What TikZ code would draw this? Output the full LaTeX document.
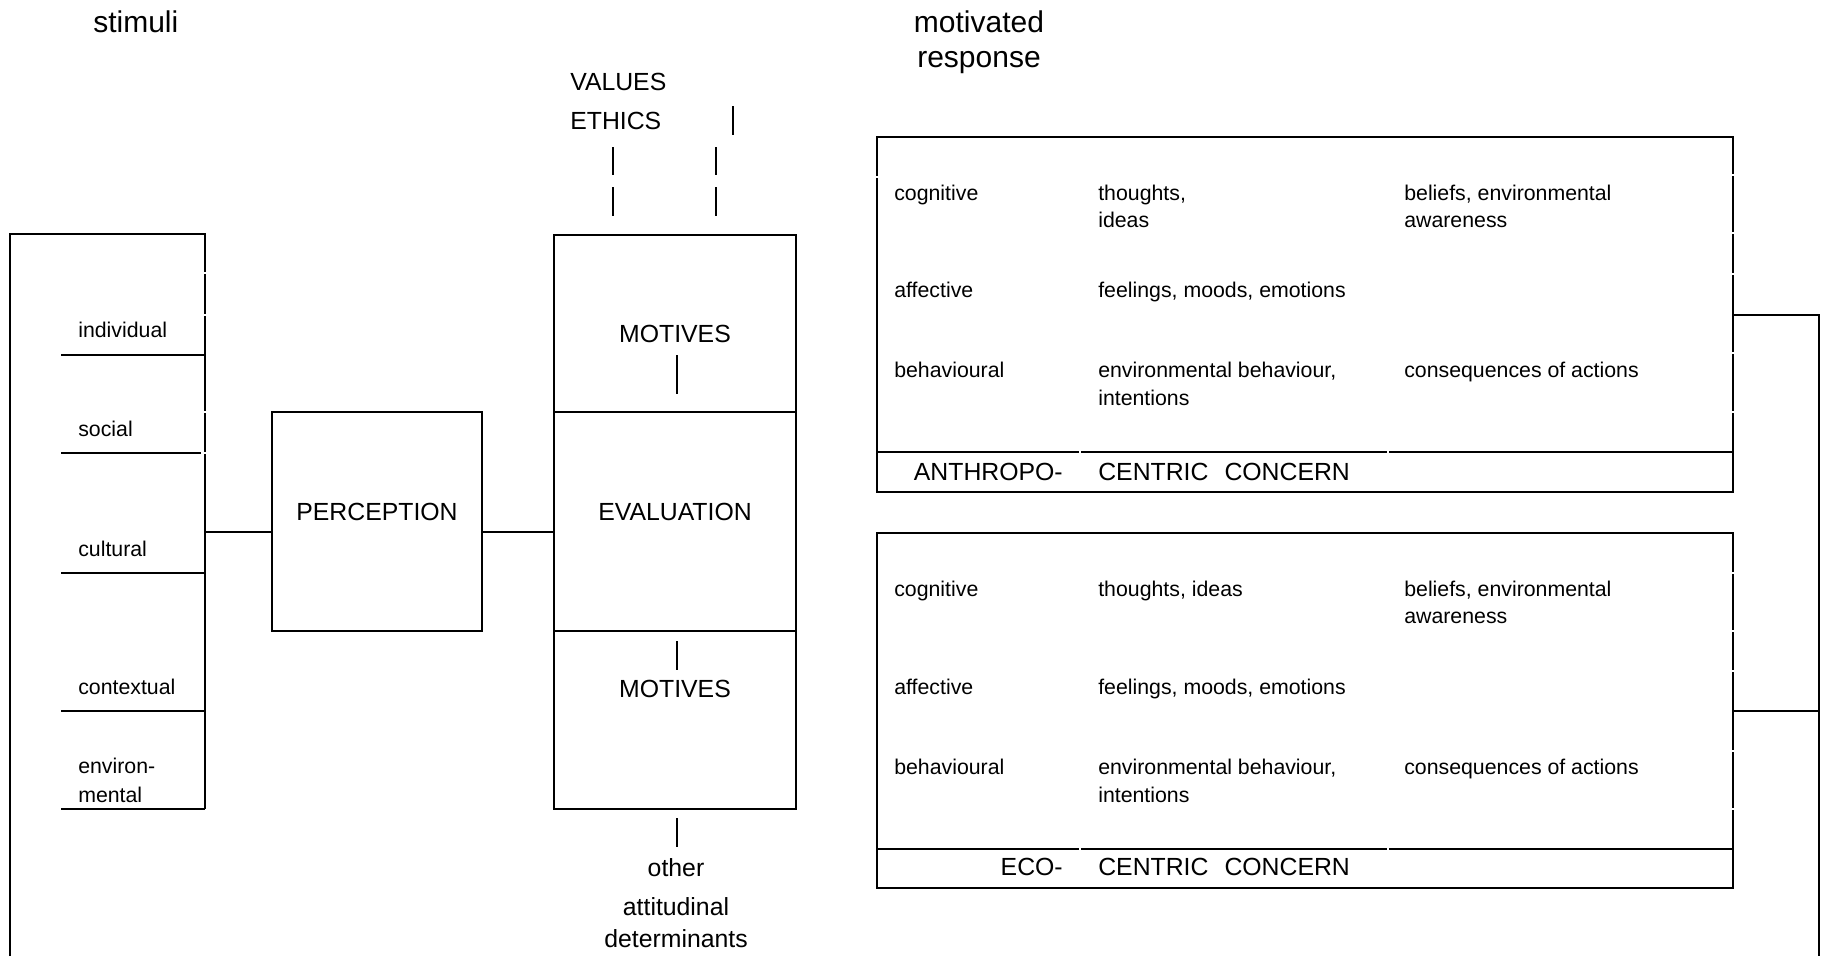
\documentclass[tikz,border=0pt]{standalone}
\usepackage{fontspec}
\setmainfont{Liberation Sans}
\begin{document}
\begin{tikzpicture}[x=1pt,y=-1pt,line width=2.6pt,
  box/.style={draw, rectangle, inner sep=0pt, outer sep=0pt, anchor=north west},
  small/.style={font=\fontsize{21.3}{25}\selectfont, inner sep=0pt, anchor=base west},
  big/.style={font=\fontsize{24.8}{30}\selectfont, inner sep=0pt, anchor=base},
  bigw/.style={big, anchor=base west},
  bige/.style={big, anchor=base east},
  head/.style={font=\fontsize{30}{36}\selectfont, inner sep=0pt, anchor=base},
  bar/.style={line width=2.4pt},
  gapv/.style={draw=white, line width=1.6pt},
]
\useasboundingbox (0,0) rectangle (1823,956);

% headings
\node[head, anchor=base west] (hstim) at (92,32) {stimuli};
\node[head] (hmot) at (979,32) {motivated};
\node[head] (hresp) at (979,67) {response};

% stimulus bracket
\coordinate (brTL) at (10,234);
\coordinate (brTR) at (205,234);
\coordinate (brBR) at (205,809);
\coordinate (brR) at (205,532);
\draw (10,956) -- (brTL) -- (brTR) -- (brBR);
\foreach \yy in {355,453,573,711,809} \draw (61,\yy) -- (205,\yy);
\foreach \yy in {273,315,412,453} \draw[gapv] (201,\yy) -- (209,\yy);
\node[small] (sInd) at (77,337) {individual};
\node[small] (sSoc) at (77,436) {social};
\node[small] (sCul) at (77,556) {cultural};
\node[small] (sCon) at (77,694) {contextual};
\node[small] (sEnv1) at (77,773) {environ-};
\node[small] (sEnv2) at (77,802) {mental};

% perception
\node[box, minimum width=210pt, minimum height=219pt] (perc) at (272,412) {};
\node[big] (percT) at (377,520) {PERCEPTION};
\draw (brR) -- (brR -| perc.west);

% motives / evaluation column
\node[box, minimum width=242pt, minimum height=177pt] (mot1) at (554,235) {};
\node[box, minimum width=242pt, minimum height=219pt] (eval) at (554,412) {};
\node[box, minimum width=242pt, minimum height=178pt] (mot2) at (554,631) {};
\draw (perc.east |- brR) -- (eval.west |- brR);
\node[big] (mot1T) at (675,342) {MOTIVES};
\node[big] (evalT) at (675,520) {EVALUATION};
\node[big] (mot2T) at (675,697) {MOTIVES};
\draw[bar] (677,355) -- (677,394);
\draw[bar] (677,641) -- (677,670);
\draw[bar] (677,818) -- (677,847);

% values and ethics
\node[big, anchor=base west] (val) at (569,90) {VALUES};
\node[big, anchor=base west] (eth) at (569,129) {ETHICS};
\draw[bar] (733,106) -- (733,135);
\draw[bar] (613,147) -- (613,175);
\draw[bar] (613,187) -- (613,216);
\draw[bar] (716,147) -- (716,175);
\draw[bar] (716,187) -- (716,216);

% other determinants
\node[big] (oth1) at (676,876) {other};
\node[big] (oth2) at (676,915) {attitudinal};
\node[big] (oth3) at (676,947) {determinants};

% anthropocentric concern
\node[box, minimum width=856pt, minimum height=355pt] (anthro) at (877,137) {};
\draw (anthro.west |- 0,452) -- (anthro.east |- 0,452);
\draw[gapv] (873,177) -- (881,177);
\foreach \yy in {175,233,274,353,412} \draw[gapv] (1729,\yy) -- (1737,\yy);
\foreach \xx in {1080,1388} \draw[gapv] (\xx,448) -- (\xx,456);
\node[small] (a1) at (893,200) {cognitive};
\node[small] (a2) at (1097,200) {thoughts,};
\node[small] (a2b) at (1097,227) {ideas};
\node[small] (a3) at (1403,200) {beliefs, environmental};
\node[small] (a3b) at (1403,227) {awareness};
\node[small] (a4) at (893,297) {affective};
\node[small] (a5) at (1097,297) {feelings, moods, emotions};
\node[small] (a6) at (893,377) {behavioural};
\node[small] (a7) at (1097,377) {environmental behaviour,};
\node[small] (a7b) at (1097,405) {intentions};
\node[small] (a8) at (1403,377) {consequences of actions};
\node[bige] (aF1) at (1064,480) {ANTHROPO-};
\node[bigw] (aF2) at (1097,480) {CENTRIC\hspace{16pt}CONCERN};

% ecocentric concern
\node[box, minimum width=856pt, minimum height=355pt] (eco) at (877,533) {};
\draw (eco.west |- 0,849) -- (eco.east |- 0,849);
\foreach \yy in {573,631,671,751,809} \draw[gapv] (1729,\yy) -- (1737,\yy);
\foreach \xx in {1080,1388} \draw[gapv] (\xx,845) -- (\xx,853);
\node[small] (e1) at (893,596) {cognitive};
\node[small] (e2) at (1097,596) {thoughts, ideas};
\node[small] (e3) at (1403,596) {beliefs, environmental};
\node[small] (e3b) at (1403,623) {awareness};
\node[small] (e4) at (893,694) {affective};
\node[small] (e5) at (1097,694) {feelings, moods, emotions};
\node[small] (e6) at (893,774) {behavioural};
\node[small] (e7) at (1097,774) {environmental behaviour,};
\node[small] (e7b) at (1097,802) {intentions};
\node[small] (e8) at (1403,774) {consequences of actions};
\node[bige] (eF1) at (1064,875) {ECO-};
\node[bigw] (eF2) at (1097,875) {CENTRIC\hspace{16pt}CONCERN};

% response feedback line
\coordinate (fbTop) at (1819,315);
\coordinate (fbMid) at (1819,711);
\coordinate (fbEnd) at (1819,956);
\draw (anthro.east |- fbTop) -- (fbTop) -- (fbEnd);
\draw (eco.east |- fbMid) -- (fbMid);
\end{tikzpicture}
\end{document}
